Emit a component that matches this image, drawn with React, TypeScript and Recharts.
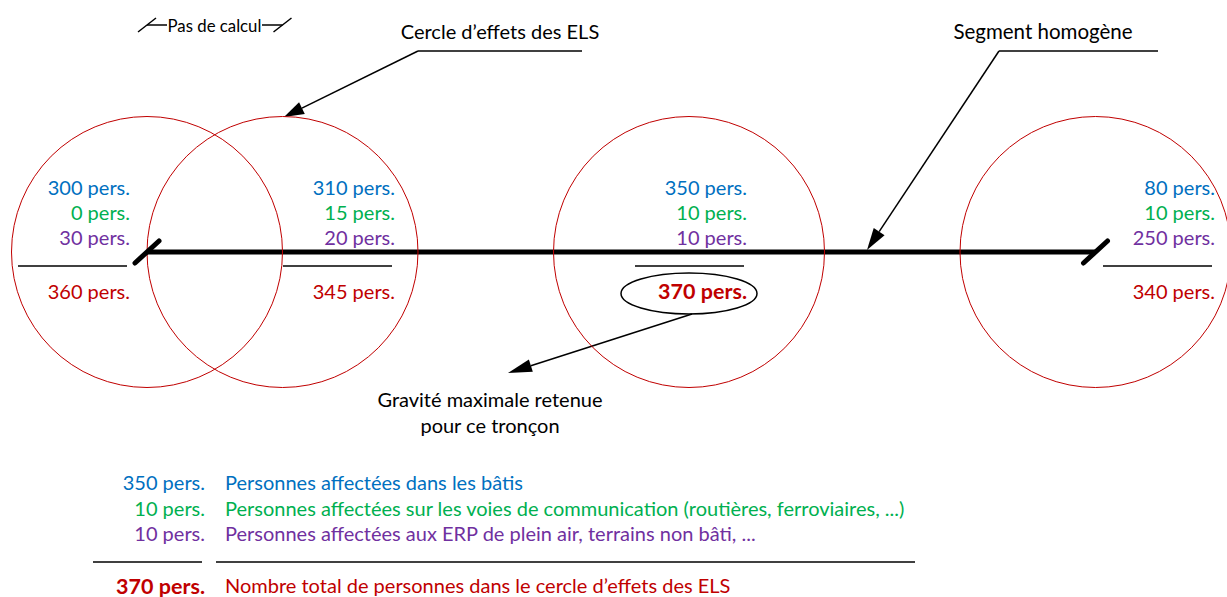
import { ComposedChart, XAxis, YAxis, Scatter, Line, Customized } from 'recharts';

// positions of the effect circles along the segment, in calculation steps
const stations = [0, 1, 4, 7];
const personsBati = [300, 310, 350, 80];
const personsVoies = [0, 15, 10, 10];
const personsPleinAir = [30, 20, 10, 250];
const personsTotal = [360, 345, 370, 340];
const segmentEnds = [0, 7];

const legendLabels = [
  'Personnes affectées dans les bâtis',
  'Personnes affectées sur les voies de communication (routières, ferroviaires, ...)',
  'Personnes affectées aux ERP de plein air, terrains non bâti, ...',
  'Nombre total de personnes dans le cercle d’effets des ELS',
];

const W = 1227;
const H = 597;
const STEP = 135.5; // px per step (= radius of the effect circle)
const ORIGIN = 147;
const ROAD_Y = 252;
const FONT = 'Lato, "Noto Sans", sans-serif';

const BLUE = '#0070C0';
const GREEN = '#00B050';
const PURPLE = '#7030A0';
const RED = '#C00000';

// right edge of the label block, relative to each circle centre
const labelDx = [-17, 112.5, 58, 119.5];

const circleData = stations.map((k, i) => ({
  k,
  y: 0,
  i,
  bati: personsBati[i],
  voies: personsVoies[i],
  plein: personsPleinAir[i],
  total: personsTotal[i],
}));
const roadData = segmentEnds.map((k) => ({ k, y: 0 }));
const maxIdx = personsTotal.indexOf(Math.max(...personsTotal));

const CircleMark = (props: any) => {
  const { cx, cy, payload } = props;
  const tx = cx + labelDx[payload.i];
  const isMax = payload.i === maxIdx;
  return (
    <g fontFamily={FONT} fontSize={20}>
      <circle cx={cx} cy={cy} r={STEP} fill="none" stroke={RED} strokeWidth={1} />
      <text x={tx} y={cy - 57} textAnchor="end" fill={BLUE}>{payload.bati} pers.</text>
      <text x={tx} y={cy - 32} textAnchor="end" fill={GREEN}>{payload.voies} pers.</text>
      <text x={tx} y={cy - 7} textAnchor="end" fill={PURPLE}>{payload.plein} pers.</text>
      <line x1={tx - 112} x2={tx - 3} y1={cy + 14} y2={cy + 14} stroke="#000" strokeWidth={1.5} />
      {isMax && (
        <ellipse cx={cx} cy={cy + 41.5} rx={68} ry={20.5} fill="none" stroke="#000" strokeWidth={1.5} />
      )}
      <text
        x={tx}
        y={cy + 46.5}
        textAnchor="end"
        fill={RED}
        fontWeight={isMax ? 700 : 400}
        fontSize={isMax ? 21.5 : 20}
      >
        {payload.total} pers.
      </text>
    </g>
  );
};

const SegmentTick = (props: any) => {
  const { cx, cy, index } = props;
  return (
    <line
      key={'t' + index}
      x1={cx - 12}
      y1={cy + 11}
      x2={cx + 12}
      y2={cy - 11}
      stroke="#000"
      strokeWidth={5}
      strokeLinecap="round"
    />
  );
};

const Arrow = ({ x1, y1, x2, y2, len = 18, half = 6 }: any) => {
  const a = Math.atan2(y2 - y1, x2 - x1);
  const bx = x2 - len * Math.cos(a);
  const by = y2 - len * Math.sin(a);
  const px = -Math.sin(a) * half;
  const py = Math.cos(a) * half;
  return (
    <g>
      <line x1={x1} y1={y1} x2={bx} y2={by} stroke="#000" strokeWidth={1.5} />
      <polygon points={`${x2},${y2} ${bx + px},${by + py} ${bx - px},${by - py}`} fill="#000" />
    </g>
  );
};

const Annotations = () => {
  const m = maxIdx;
  const legendValues = [personsBati[m], personsVoies[m], personsPleinAir[m]];
  const legendColors = [BLUE, GREEN, PURPLE];
  return (
    <g fontFamily={FONT}>
      {/* pas de calcul */}
      <g stroke="#000" strokeWidth={1.5}>
        <line x1={ORIGIN - 9} y1={32} x2={ORIGIN + 9} y2={18} />
        <line x1={ORIGIN} y1={25} x2={167} y2={25} />
        <line x1={262} y1={25} x2={ORIGIN + STEP} y2={25} />
        <line x1={ORIGIN + STEP - 9} y1={32} x2={ORIGIN + STEP + 9} y2={18} />
      </g>
      <text x={214.5} y={31.5} textAnchor="middle" fontSize={16.8} fill="#000">Pas de calcul</text>

      {/* cercle d'effets */}
      <text x={500} y={38.5} textAnchor="middle" fontSize={20} fill="#000">Cercle d’effets des ELS</text>
      <line x1={418} y1={51} x2={582} y2={51} stroke="#000" strokeWidth={1.5} />
      <Arrow x1={418} y1={51} x2={284} y2={117} len={20} half={6.5} />

      {/* segment homogene */}
      <text x={1043} y={38.5} textAnchor="middle" fontSize={20.5} fill="#000">Segment homogène</text>
      <line x1={999} y1={51} x2={1158} y2={51} stroke="#000" strokeWidth={1.5} />
      <Arrow x1={999} y1={51} x2={867} y2={250} len={22} half={6.5} />

      {/* gravite maximale */}
      <Arrow x1={692} y1={314} x2={508} y2={373} len={24} half={6.5} />
      <text x={490} y={406.5} textAnchor="middle" fontSize={20} fill="#000">Gravité maximale retenue</text>
      <text x={490} y={432.5} textAnchor="middle" fontSize={20} fill="#000">pour ce tronçon</text>

      {/* legend */}
      {legendValues.map((v, i) => (
        <g key={i} fontSize={20} fill={legendColors[i]}>
          <text x={205} y={490 + i * 25.5} textAnchor="end">{v} pers.</text>
          <text x={225} y={490 + i * 25.5}>{legendLabels[i]}</text>
        </g>
      ))}
      <line x1={93} y1={562} x2={202} y2={562} stroke="#000" strokeWidth={1.5} />
      <line x1={216} y1={562} x2={915} y2={562} stroke="#000" strokeWidth={1.5} />
      <text x={205} y={593.5} textAnchor="end" fontSize={21.5} fontWeight={700} fill={RED}>
        {personsTotal[m]} pers.
      </text>
      <text x={225} y={593} fontSize={20} fill={RED}>{legendLabels[3]}</text>
    </g>
  );
};

export default function App() {
  return (
    <div style={{ position: 'absolute', left: 0, top: 0, width: W, height: H, background: '#fff' }}>
      <ComposedChart width={W} height={H} margin={{ top: 0, right: 0, bottom: 0, left: 0 }}>
        <XAxis
          dataKey="k"
          type="number"
          domain={[-ORIGIN / STEP, (W - ORIGIN) / STEP]}
          allowDataOverflow
          hide
        />
        <YAxis dataKey="y" type="number" domain={[ROAD_Y - H, ROAD_Y]} allowDataOverflow hide />
        <Scatter data={circleData} dataKey="y" shape={CircleMark} isAnimationActive={false} />
        <Line
          data={roadData}
          dataKey="y"
          type="linear"
          stroke="#000"
          strokeWidth={5}
          dot={SegmentTick}
          activeDot={false}
          isAnimationActive={false}
        />
        <Customized component={Annotations} />
      </ComposedChart>
    </div>
  );
}
